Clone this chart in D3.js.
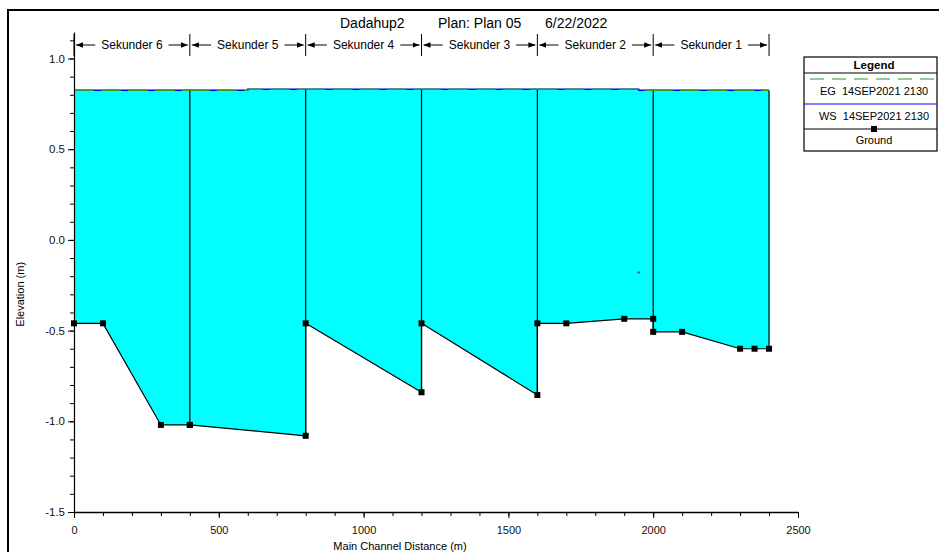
<!DOCTYPE html>
<html>
<head>
<meta charset="utf-8">
<script src="https://cdn.jsdelivr.net/npm/d3@7"></script>
<style>
  body { margin: 0; background: #fff; }
  svg { font-family: "Liberation Sans", Arial, sans-serif; }
</style>
</head>
<body>
<div id="chart"></div>
<script>
// reaches, left to right along the main channel
const reaches = ["Sekunder 6", "Sekunder 5", "Sekunder 4", "Sekunder 3", "Sekunder 2", "Sekunder 1"];
const reachStart = [0, 400, 800, 1200, 1600, 2000];
const reachEnd = [400, 800, 1200, 1600, 2000, 2400];

// ground profile per reach: [station (m), elevation (m)]
const ground = [
    [[0, -0.46], [100, -0.46], [300, -1.02], [400, -1.02]],
    [[400, -1.02], [800, -1.08]],
    [[800, -0.46], [1200, -0.84]],
    [[1200, -0.46], [1600, -0.855]],
    [[1600, -0.46], [1700, -0.46], [1900, -0.435], [2000, -0.435]],
    [[2000, -0.507], [2100, -0.507], [2300, -0.60], [2350, -0.60], [2400, -0.60]]
];

// water surface per reach (EG lies on top of it)
const ws = [
    [[0, 0.825], [400, 0.825]],
    [[400, 0.825], [600, 0.825], [600, 0.83], [800, 0.83]],
    [[800, 0.83], [1200, 0.83]],
    [[1200, 0.83], [1600, 0.83]],
    [[1600, 0.83], [1950, 0.83], [1950, 0.825], [2000, 0.825]],
    [[2000, 0.825], [2400, 0.825]]
];

const strayPoint = [[1950, -0.18]];

const xTicks = [0, 500, 1000, 1500, 2000, 2500];
const yTicks = [-1.5, -1.0, -0.5, 0.0, 0.5, 1.0];
const legendItems = ["EG  14SEP2021 2130", "WS  14SEP2021 2130", "Ground"];

const width = 939;
const height = 552;

const svg = d3.select("#chart")
    .append("svg")
    .attr("width", width)
    .attr("height", height);

// outer frame
svg.append("rect")
    .attr("x", 8).attr("y", 10)
    .attr("width", 940).attr("height", 560)
    .attr("fill", "none")
    .attr("stroke", "#000")
    .attr("stroke-width", 2);

const xScale = d3.scaleLinear()
    .domain([0, 2500])
    .range([74, 798]);

const yScale = d3.scaleLinear()
    .domain([-1.5, 1.146])
    .range([512, 32]);

const line = d3.line()
    .x(function(d) { return xScale(d[0]); })
    .y(function(d) { return yScale(d[1]); });

// filled water between surface and ground
reaches.forEach(function(r, i) {
    const poly = ws[i].concat(ground[i].slice().reverse());
    svg.append("path")
        .attr("d", line(poly) + "Z")
        .attr("fill", "#00ffff")
        .attr("stroke", "none");
});

// junction lines at reach ends
reachEnd.forEach(function(x, i) {
    let lows = [ground[i][ground[i].length - 1][1]];
    if (i + 1 < reaches.length) lows.push(ground[i + 1][0][1]);
    const top = ws[i][ws[i].length - 1][1];
    svg.append("line")
        .attr("x1", xScale(x)).attr("x2", xScale(x))
        .attr("y1", yScale(top)).attr("y2", yScale(d3.min(lows)))
        .attr("stroke", "#000")
        .attr("stroke-width", 1.2);
});

// WS (blue) and EG (green dashed)
ws.forEach(function(seg) {
    svg.append("path").attr("d", line(seg))
        .attr("fill", "none").attr("stroke", "#0000ff").attr("stroke-width", 1.5);
    svg.append("path").attr("d", line(seg))
        .attr("fill", "none").attr("stroke", "#2e9b2e").attr("stroke-width", 1.5)
        .attr("stroke-dasharray", "20,7");
});

// ground line with markers
ground.forEach(function(seg) {
    svg.append("path").attr("d", line(seg))
        .attr("fill", "none").attr("stroke", "#000").attr("stroke-width", 1.2);
    svg.selectAll(null)
        .data(seg)
        .enter()
        .append("rect")
            .attr("x", function(d) { return xScale(d[0]) - 3; })
            .attr("y", function(d) { return yScale(d[1]) - 3; })
            .attr("width", 6).attr("height", 6)
            .attr("fill", "#000");
});
for (let i = 0; i < reaches.length - 1; i++) {
    const a = ground[i][ground[i].length - 1];
    const b = ground[i + 1][0];
    svg.append("line")
        .attr("x1", xScale(a[0])).attr("x2", xScale(b[0]))
        .attr("y1", yScale(a[1])).attr("y2", yScale(b[1]))
        .attr("stroke", "#000").attr("stroke-width", 1.2);
}

svg.selectAll(null)
    .data(strayPoint)
    .enter()
    .append("circle")
        .attr("cx", function(d) { return xScale(d[0]); })
        .attr("cy", function(d) { return yScale(d[1]); })
        .attr("r", 1.3)
        .attr("fill", "#3050ff");

// axes
const fmtY = function(d) { return d3.format(".1f")(d).replace("\u2212", "-"); };

const xMinor = svg.append("g")
    .attr("transform", "translate(0," + yScale(-1.5) + ")")
    .call(d3.axisBottom(xScale).tickValues(d3.range(0, 2501, 100)).tickSize(4).tickFormat(""));
xMinor.select(".domain").remove();

const xAxis = svg.append("g")
    .attr("transform", "translate(0," + yScale(-1.5) + ")")
    .call(d3.axisBottom(xScale).tickValues(xTicks).tickSize(6).tickSizeOuter(0).tickFormat(d3.format("d")));
xAxis.select(".domain").attr("stroke-width", 1.5);
xAxis.selectAll("text").attr("font-size", 11).attr("fill", "#111").attr("dy", "1.2em")
    .attr("font-family", "Liberation Sans, Arial, sans-serif");

const yMinor = svg.append("g")
    .attr("transform", "translate(" + xScale(0) + ",0)")
    .call(d3.axisLeft(yScale).tickValues(d3.range(-15, 12).map(function(v) { return v / 10; })).tickSize(4).tickFormat(""));
yMinor.select(".domain").remove();

const yAxis = svg.append("g")
    .attr("transform", "translate(" + xScale(0) + ",0)")
    .call(d3.axisLeft(yScale).tickValues(yTicks).tickSize(6).tickSizeOuter(0).tickFormat(fmtY));
yAxis.select(".domain").attr("stroke-width", 1.2);
yAxis.selectAll("text").attr("font-size", 11.5).attr("fill", "#111")
    .attr("font-family", "Liberation Sans, Arial, sans-serif");

// axis titles
svg.append("text")
    .attr("x", 400).attr("y", 550)
    .attr("text-anchor", "middle")
    .attr("font-size", 11)
    .text("Main Channel Distance (m)");

svg.append("text")
    .attr("transform", "translate(24," + yScale(-0.3) + ") rotate(-90)")
    .attr("text-anchor", "middle")
    .attr("font-size", 11)
    .text("Elevation (m)");

// title
const title = svg.append("text").attr("y", 28).attr("font-size", 14);
title.append("tspan").attr("x", 340).text("Dadahup2");
title.append("tspan").attr("x", 438).text("Plan: Plan 05");
title.append("tspan").attr("x", 545).text("6/22/2022");

// reach labels with arrows
const defs = svg.append("defs");
defs.append("marker")
    .attr("id", "arr")
    .attr("viewBox", "0 0 10 10")
    .attr("refX", 10).attr("refY", 5)
    .attr("markerWidth", 7).attr("markerHeight", 7)
    .attr("orient", "auto-start-reverse")
    .append("path").attr("d", "M0,1 L10,5 L0,9 Z").attr("fill", "#000");

const labY = 45;
reaches.forEach(function(r, i) {
    const x0 = xScale(reachStart[i]);
    const x1 = xScale(reachEnd[i]);
    const mid = (x0 + x1) / 2;
    const txt = svg.append("text")
        .attr("x", mid).attr("y", labY + 4)
        .attr("text-anchor", "middle")
        .attr("font-size", 12)
        .text(r);
    const w = txt.node().getComputedTextLength();
    svg.append("line")
        .attr("x1", mid - w / 2 - 6).attr("x2", x0 + 2)
        .attr("y1", labY).attr("y2", labY)
        .attr("stroke", "#000").attr("marker-end", "url(#arr)");
    svg.append("line")
        .attr("x1", mid + w / 2 + 6).attr("x2", x1 - 2)
        .attr("y1", labY).attr("y2", labY)
        .attr("stroke", "#000").attr("marker-end", "url(#arr)");
});
reachStart.concat([2400]).forEach(function(x) {
    svg.append("line")
        .attr("x1", xScale(x)).attr("x2", xScale(x))
        .attr("y1", 34).attr("y2", 56)
        .attr("stroke", "#000");
});

// legend
const lg = svg.append("g").attr("transform", "translate(804,57)");
lg.append("rect").attr("width", 133).attr("height", 94)
    .attr("fill", "#fff").attr("stroke", "#000").attr("stroke-width", 1.2);
lg.append("text").attr("x", 70).attr("y", 12).attr("text-anchor", "middle")
    .attr("font-size", 11.5).attr("font-weight", "bold").text("Legend");
lg.append("line").attr("x1", 0).attr("x2", 133).attr("y1", 16).attr("y2", 16)
    .attr("stroke", "#000");
lg.append("line").attr("x1", 6).attr("x2", 133).attr("y1", 22).attr("y2", 22)
    .attr("stroke", "#2e9b2e").attr("stroke-width", 1.2).attr("stroke-dasharray", "14,8");
lg.append("text").attr("x", 70).attr("y", 38).attr("text-anchor", "middle")
    .attr("font-size", 11).style("white-space", "pre").text(legendItems[0]);
lg.append("line").attr("x1", 0).attr("x2", 133).attr("y1", 47).attr("y2", 47)
    .attr("stroke", "#0000ff").attr("stroke-width", 1.2);
lg.append("text").attr("x", 70).attr("y", 63).attr("text-anchor", "middle")
    .attr("font-size", 11).style("white-space", "pre").text(legendItems[1]);
lg.append("line").attr("x1", 0).attr("x2", 133).attr("y1", 72).attr("y2", 72)
    .attr("stroke", "#000").attr("stroke-width", 1.2);
lg.append("rect").attr("x", 67).attr("y", 69).attr("width", 6).attr("height", 6).attr("fill", "#000");
lg.append("text").attr("x", 70).attr("y", 87).attr("text-anchor", "middle")
    .attr("font-size", 11).text(legendItems[2]);
</script>
</body>
</html>
